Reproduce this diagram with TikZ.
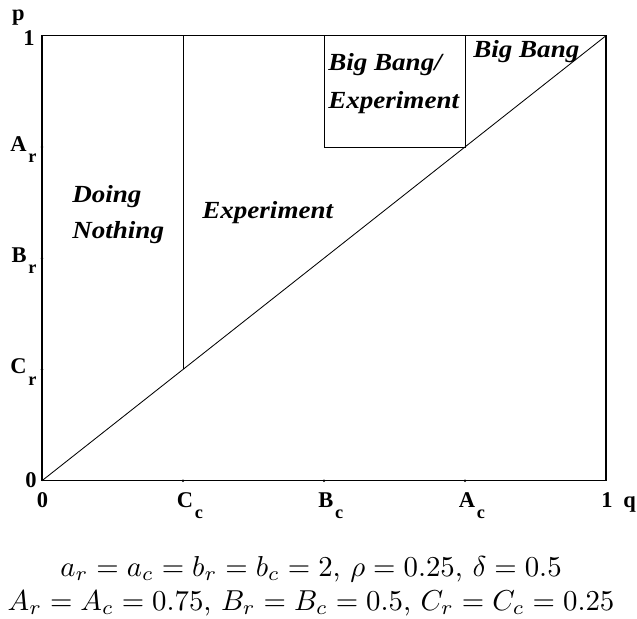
\documentclass[tikz,border=0pt]{standalone}
\usepackage{fontspec}
\newfontfamily\tnr{Liberation Serif}
\usepackage{tikz}
\usetikzlibrary{positioning}
% bold letter with a lowered index, index kept out of the node width
\newcommand{\tklab}[2]{#1\rlap{\kern1.2pt\raisebox{-8pt}{\fontsize{13}{13}\selectfont #2}}}
\tikzset{
  axlab/.style={font=\tnr\bfseries\fontsize{16}{16}\selectfont,inner sep=0pt},
  region/.style={font=\tnr\bfseries\itshape\fontsize{17.5}{25.5}\selectfont,inner sep=0pt,align=left,xscale=1.1},
  param/.style={anchor=base,inner sep=0pt,scale=2.05},
  border/.style={line width=1.1pt},
  bound/.style={line width=0.6pt}
}
\begin{document}
\begin{tikzpicture}[x=14.1cm,y=11.125cm]
  \useasboundingbox (-0.07447,-0.30854) rectangle (1.05496,1.08022);
  \coordinate (o) at (0,0); \coordinate (tr) at (1,1);
  \coordinate (cc) at (0.25,0.25); \coordinate (ct) at (0.25,1);
  \coordinate (bt) at (0.5,1); \coordinate (bm) at (0.5,0.75);
  \coordinate (am) at (0.75,0.75); \coordinate (at) at (0.75,1);
  % region boundaries
  \draw[bound] (o) -- (tr);
  \draw[bound] (cc) -- (ct);
  \draw[bound] (bt) -- (bm) -- (am) -- (at);
  \draw[border] (o) rectangle (tr);
  % ticks
  \foreach \t/\n in {0.25/C,0.5/B,0.75/A} {
    \fill (\t,0) circle (1pt); \fill (0,\t) circle (1pt);
    \node[axlab,anchor=base] (x\n) at (\t+0.0035,-0.0591) {\tklab{\n}{c}};
    \node[axlab,anchor=base east] (y\n) at (-0.0266,\t-0.0101) {\tklab{\n}{r}};
  }
  \node[axlab,anchor=base east] (y0) at (-0.0089,-0.0142) {0};
  \node[axlab,anchor=base] (x0) at (0.001,-0.0591) {0};
  \node[axlab,anchor=base east] (y1) at (-0.0124,0.979) {1};
  \node[axlab,anchor=base] (x1) at (1.0018,-0.0591) {1};
  \node[axlab,anchor=base east] (plab) at (-0.0301,1.0337) {p};
  \node[axlab,anchor=base west] (qlab) at (1.0301,-0.0591) {q};
  % regions
  \node[region,anchor=north west] (nothing) at (0.0532,0.6645) {Doing\\Nothing};
  \node[region,anchor=base west] (exper) at (0.2837,0.5903) {Experiment};
  \node[region,anchor=north west] (mixed) at (0.5071,0.9611) {Big Bang/\\[1.4pt]Experiment};
  \node[region,anchor=base west] (bang) at (0.7642,0.952) {Big Bang};
  % parameters
  \node[param] (par1) at (0.477,-0.2150) {$a_r=a_c=b_r=b_c=2$, $\rho=0.25$, $\delta=0.5$};
  \node[param] (par2) at (0.477,-0.2906) {$A_r=A_c=0.75$, $B_r=B_c=0.5$, $C_r=C_c=0.25$};
\end{tikzpicture}
\end{document}
